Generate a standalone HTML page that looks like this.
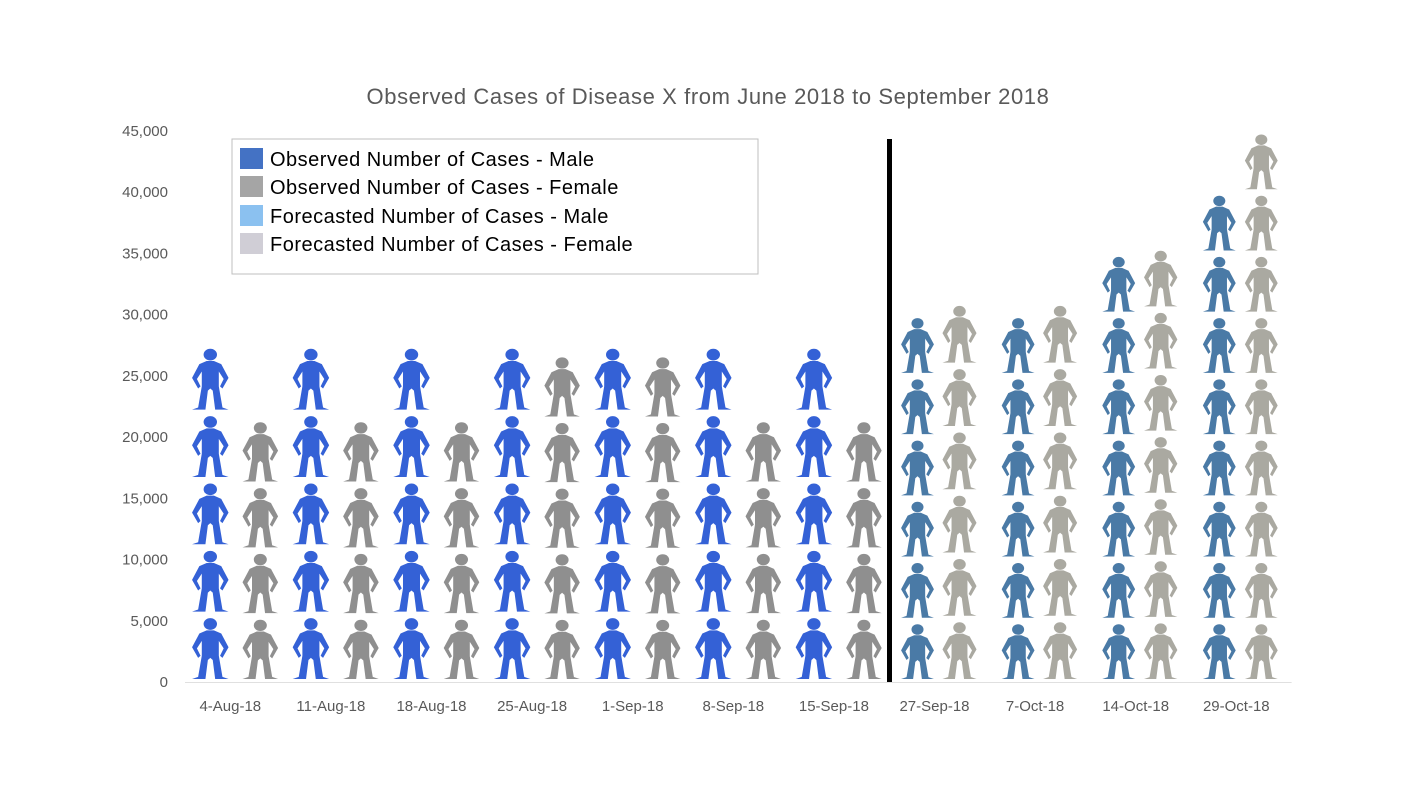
<!DOCTYPE html>
<html><head><meta charset="utf-8"><style>
body{margin:0;background:#fff;font-family:"Liberation Sans",sans-serif}
</style></head><body>
<svg id="chart" width="1413" height="793" xmlns="http://www.w3.org/2000/svg" font-family="Liberation Sans, sans-serif">
<defs>
<g id="person">
<circle cx="0" cy="-52" r="5.5"/>
<path d="M-3,-46 L3,-46 L9,-43 L15,-30 L10,-20 L8,-22 L11,-29 L7,-36 L7,-22 L10,-2 L15,0 L4,0 L2,-18 L0,-20 L-2,-18 L-4,0 L-15,0 L-10,-2 L-7,-22 L-7,-36 L-11,-29 L-8,-22 L-10,-20 L-15,-30 L-9,-43 Z"/>
</g>
</defs>
<text x="708" y="104" text-anchor="middle" font-size="22" letter-spacing="0.6" fill="#595959">Observed Cases of Disease X  from June 2018 to September 2018</text>
<g id="yaxis"></g>
<g id="xaxis"></g>
<g id="marks"></g>
<rect x="887" y="139" width="5" height="543" fill="#000"/>
<g font-size="20" letter-spacing="0.5">
<rect x="232" y="139" width="526" height="135" fill="#fff" stroke="#bfbfbf"/>
<rect x="240" y="148" width="23" height="21" fill="#4472C4"/>
<text x="270" y="166" fill="#000">Observed Number of Cases - Male</text>
<rect x="240" y="176" width="23" height="21" fill="#A5A5A5"/>
<text x="270" y="194" fill="#000">Observed Number of Cases - Female</text>
<rect x="240" y="205" width="23" height="21" fill="#8BC1F0"/>
<text x="270" y="223" fill="#000">Forecasted Number of Cases - Male</text>
<rect x="240" y="233" width="23" height="21" fill="#D0CED6"/>
<text x="270" y="251" fill="#000">Forecasted Number of Cases - Female</text>
</g>
</svg>
<script>
const categories=["4-Aug-18","11-Aug-18","18-Aug-18","25-Aug-18","1-Sep-18","8-Sep-18","15-Sep-18","27-Sep-18","7-Oct-18","14-Oct-18","29-Oct-18"];
const obsMale=[27500,27500,27500,27500,27500,27500,27500,0,0,0,0];
const obsFemale=[21500,21500,21500,26800,26800,21500,21500,0,0,0,0];
const fcMale=[0,0,0,0,0,0,0,30000,30000,35000,40000];
const fcFemale=[0,0,0,0,0,0,0,31000,31000,35500,45000];
const yTicks=[0,5000,10000,15000,20000,25000,30000,35000,40000,45000];
const NS="http://www.w3.org/2000/svg";
const y0=682,yTop=131,yMax=45000,xL=185,band=100.6;
const y=v=>y0-(v/yMax)*(y0-yTop);
const xc=i=>xL+band*(i+0.5);
function mk(t,a,p){const e=document.createElementNS(NS,t);for(const k in a)e.setAttribute(k,a[k]);p.appendChild(e);return e;}
const ya=document.getElementById('yaxis'),xa=document.getElementById('xaxis'),mg=document.getElementById('marks');
yTicks.forEach(v=>{const t=mk('text',{x:168,y:y(v)+5,'text-anchor':'end','font-size':15,fill:'#595959'},ya);t.textContent=v.toLocaleString('en-US');

});
mk('line',{x1:xL,x2:xL+band*11,y1:y0+0.5,y2:y0+0.5,stroke:'#e0e0e0'},xa);
categories.forEach((c,i)=>{const t=mk('text',{x:xc(i)-5,y:711,'text-anchor':'middle','font-size':15,fill:'#595959'},xa);t.textContent=c;

});
function series(vals,unit,dx,color,name){
 vals.forEach((v,i)=>{if(!v)return;const n=Math.round(v/unit);const slot=(y(0)-y(v))/n;
  for(let k=0;k<n;k++){const by=y0-slot*k-3;const s=(slot-6)/58;
   const u=mk('use',{href:'#person',transform:`translate(${xc(i)+dx},${by}) scale(${s*1.15},${s})`,fill:color},mg);
   
   }
 });
}
series(obsMale,5500,-25,'#3461d6','male-observed-figure');
series(obsFemale,5375,25,'#8f8f8f','female-observed-figure');
series(fcMale,5000,-22,'#4a7aa6','male-forecast-figure');
series(fcFemale,5000,20,'#aaa9a1','female-forecast-figure');
</script>
</body></html>
